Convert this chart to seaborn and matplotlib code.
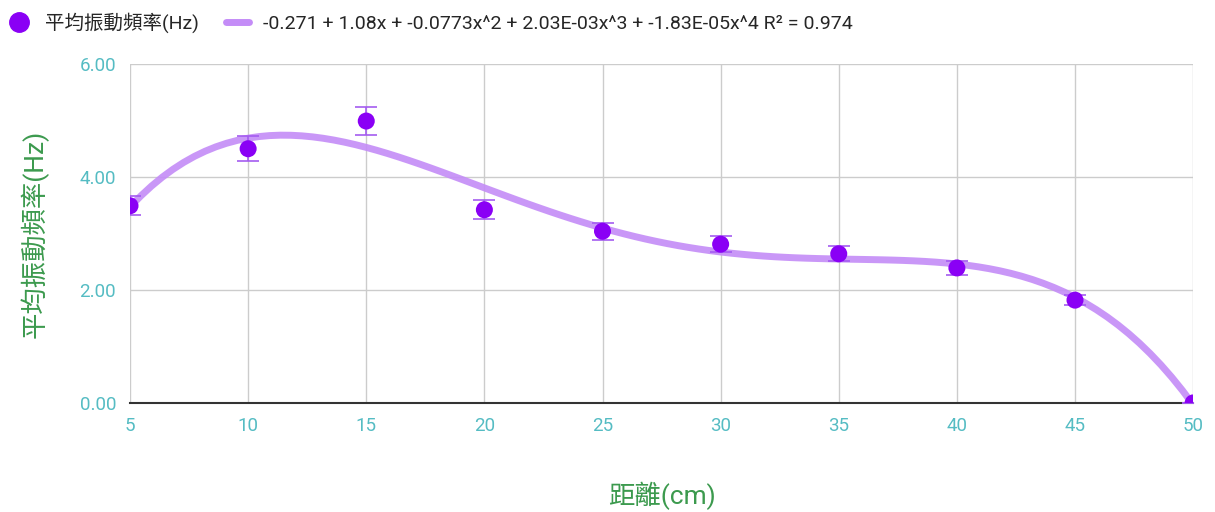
import numpy as np
import pandas as pd
import seaborn as sns
import matplotlib.pyplot as plt
from matplotlib.lines import Line2D

# Values
distance_cm = [5, 10, 15, 20, 25, 30, 35, 40, 45, 50]
freq_hz = [3.49, 4.50, 4.99, 3.42, 3.04, 2.81, 2.64, 2.39, 1.82, 0.0]
freq_err = [0.17, 0.22, 0.25, 0.17, 0.15, 0.14, 0.13, 0.12, 0.09, 0.0]
x_ticks = [5, 10, 15, 20, 25, 30, 35, 40, 45, 50]
y_ticks = [0, 2, 4, 6]

series_label = "平均振動頻率(Hz)"
trend_label = "-0.271 + 1.08x + -0.0773x^2 + 2.03E-03x^3 + -1.83E-05x^4 R² = 0.974"
x_title = "距離(cm)"

df = pd.DataFrame({"distance": distance_cm, "freq": freq_hz, "err": freq_err})

sns.set_style("white")
plt.rcParams["font.family"] = ["Roboto", "Noto Sans CJK TC", "DejaVu Sans"]

POINT = "#8a00f5"
TREND = "#c48cf7"
TICK = "#55bcc3"
TITLE = "#3c9a4e"

fig = plt.figure(figsize=(12.15, 5.12), dpi=100)
ax = fig.add_axes([0.107, 0.213, 0.875, 0.662])

# 4th-order polynomial trendline fitted by seaborn
sns.regplot(data=df, x="distance", y="freq", order=4, ci=None, scatter=False,
            line_kws={"color": TREND, "lw": 5, "alpha": 0.9, "solid_capstyle": "round"},
            ax=ax)

ax.errorbar(df["distance"], df["freq"], yerr=df["err"], fmt="none",
            ecolor="#a45cf0", elinewidth=1.2, capsize=8, capthick=1.2, zorder=3)
sns.scatterplot(data=df, x="distance", y="freq", color=POINT, s=150,
                edgecolor="none", zorder=4, ax=ax)

ax.set_xlim(5, 50)
ax.set_ylim(0, 6)
ax.set_xticks(x_ticks)
ax.set_yticks(y_ticks)
ax.set_yticklabels([f"{v:.2f}" for v in y_ticks])
ax.tick_params(axis="both", length=0, labelsize=13.5, labelcolor=TICK)
ax.tick_params(axis="x", pad=10)
ax.tick_params(axis="y", pad=10)
ax.grid(True, color="#cccccc", lw=1)
for side in ["top", "right", "left"]:
    ax.spines[side].set_visible(False)
ax.spines["bottom"].set_color("#333333")
ax.spines["bottom"].set_linewidth(1.5)

ax.set_xlabel(x_title, color=TITLE, fontsize=19, labelpad=34)
ax.set_ylabel(series_label, color=TITLE, fontsize=19, labelpad=22)

handles = [
    Line2D([], [], marker="o", ls="none", color=POINT, markersize=14),
    Line2D([], [], color=TREND, lw=5),
]
fig.legend(handles, [series_label, trend_label], loc="upper left",
           bbox_to_anchor=(-0.008, 1.01), ncol=2, frameon=False, fontsize=14,
           handlelength=1.2, handletextpad=0.7, columnspacing=1.4)

fig.savefig("out.png", dpi=100)
